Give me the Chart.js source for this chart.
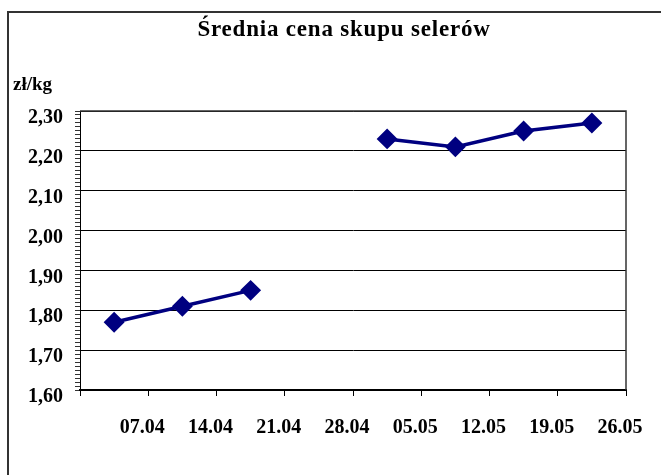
<!DOCTYPE html>
<html lang="pl">
<head>
<meta charset="utf-8">
<title>Średnia cena skupu selerów</title>
<script src="https://cdn.jsdelivr.net/npm/chart.js@4"></script>
<style>
  html, body { margin: 0; padding: 0; background: #fff; }
  .wrap { position: relative; width: 661px; height: 475px; overflow: hidden; }
  .frame {
    position: absolute; left: 7px; top: 11px; width: 700px; height: 500px;
    border-left: 2px solid #333; border-top: 2px solid #333; box-sizing: border-box;
  }
  canvas { position: absolute; left: 0; top: 0; }
</style>
</head>
<body>
<div class="wrap">
  <div class="frame"></div>
  <canvas id="chart" width="661" height="475"></canvas>
</div>
<script>
// ── Dane ──────────────────────────────────────────────────
const tytul     = 'Średnia cena skupu selerów';
const jednostka = 'zł/kg';
const daty      = ['07.04', '14.04', '21.04', '28.04', '05.05', '12.05', '19.05', '26.05'];
const ceny      = [1.77, 1.81, 1.85, null, 2.23, 2.21, 2.25, 2.27];
const yMin = 1.6, yMax = 2.3;

// punkt w środku tygodnia, etykieta na granicy kategorii
const punkty = ceny.map((v, i) => ({ x: i + 0.5, y: v }));
const fmt = v => v.toFixed(2).replace('.', ',');
const RODZINA = '"Liberation Serif", "Times New Roman", serif';
const font = size => ({ family: RODZINA, size, weight: 'bold' });

new Chart(document.getElementById('chart'), {
  type: 'line',
  data: {
    datasets: [{
      data: punkty,
      borderColor: '#000080',
      backgroundColor: '#000080',
      borderWidth: 3.5,
      pointStyle: 'rectRot',
      pointRadius: 8,
      pointHoverRadius: 8,
      tension: 0,
      spanGaps: false,
    }]
  },
  options: {
    responsive: false,
    animation: false,
    layout: { padding: { left: 13, top: 111, right: 35, bottom: 10 } },
    plugins: {
      legend: { display: false },
      tooltip: { enabled: false },
    },
    scales: {
      x: {
        type: 'linear', min: 0, max: daty.length,
        afterFit: s => { s.height = 75; s.paddingRight = 0; s.paddingLeft = 0; },
        border: { color: '#000', width: 2 },
        grid: { drawOnChartArea: false, tickLength: 6, color: '#000' },
        ticks: {
          stepSize: 1, autoSkip: false, maxRotation: 0,
          color: '#000', font: font(20), padding: 20, labelOffset: -6,
          callback: v => v >= 1 ? daty[v - 1] : '',
        }
      },
      y: {
        min: yMin, max: yMax,
        afterFit: s => { s.width = 67; },
        border: { color: '#000', width: 1 },
        grid: {
          color: ctx => Math.round(ctx.tick.value * 100) % 10 === 0 ? '#000' : 'rgba(0,0,0,0)',
          tickColor: '#333', tickLength: 5, lineWidth: 1,
        },
        ticks: {
          stepSize: 0.01, autoSkip: false, color: '#000',
          font: font(20), padding: 12, labelOffset: 7,
          callback: v => Math.round(v * 100) % 10 === 0 ? fmt(v) : '',
        }
      }
    }
  },
  plugins: [{
    id: 'ramkaINapisy',
    afterDraw(chart) {
      const { ctx, chartArea: a } = chart;
      ctx.save();
      // ramka obszaru wykresu (góra i prawa)
      ctx.strokeStyle = '#333';
      ctx.lineWidth = 1.5;
      ctx.beginPath();
      ctx.moveTo(a.left, a.top);
      ctx.lineTo(a.right, a.top);
      ctx.lineTo(a.right, a.bottom);
      ctx.stroke();
      // tytuł i jednostka
      ctx.fillStyle = '#000';
      ctx.textBaseline = 'middle';
      ctx.textAlign = 'center';
      ctx.font = 'bold 23px ' + RODZINA;
      ctx.letterSpacing = '0.8px';
      ctx.fillText(tytul, 344, 30);
      ctx.letterSpacing = '0px';
      ctx.textAlign = 'left';
      ctx.font = 'bold 19px ' + RODZINA;
      ctx.fillText(jednostka, 13, 85);
      ctx.restore();
    }
  }]
});
</script>
</body>
</html>
